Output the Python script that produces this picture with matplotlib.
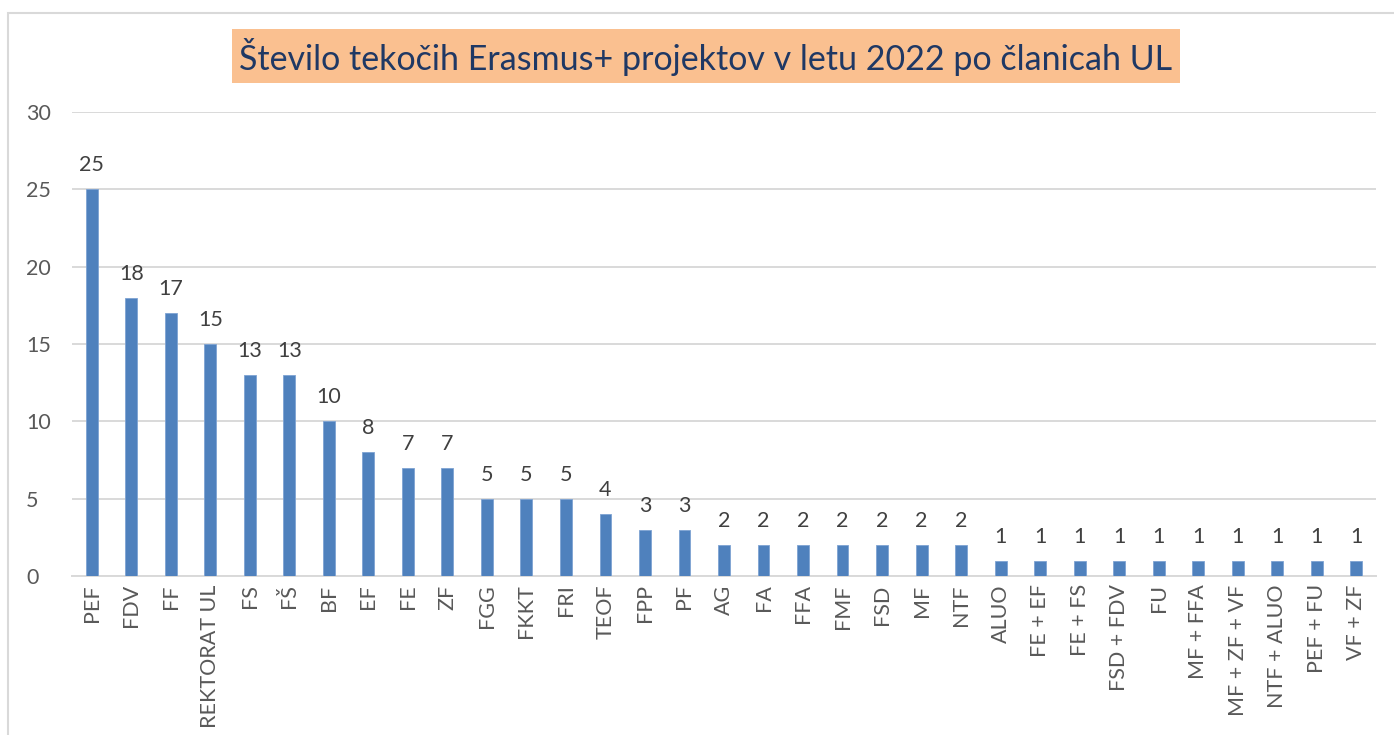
import matplotlib.pyplot as plt
from matplotlib.patches import Rectangle

categories = ['PEF', 'FDV', 'FF', 'REKTORAT UL', 'FS', 'FŠ', 'BF', 'EF', 'FE', 'ZF',
              'FGG', 'FKKT', 'FRI', 'TEOF', 'FPP', 'PF', 'AG', 'FA', 'FFA', 'FMF',
              'FSD', 'MF', 'NTF', 'ALUO', 'FE + EF', 'FE + FS', 'FSD + FDV', 'FU',
              'MF + FFA', 'MF + ZF + VF', 'NTF + ALUO', 'PEF + FU', 'VF + ZF']
values = [25, 18, 17, 15, 13, 13, 10, 8, 7, 7,
          5, 5, 5, 4, 3, 3, 2, 2, 2, 2,
          2, 2, 2, 1, 1, 1, 1, 1,
          1, 1, 1, 1, 1]
yticks = [0, 5, 10, 15, 20, 25, 30]
title = 'Število tekočih Erasmus+ projektov v letu 2022 po članicah UL'

plt.rcParams['font.family'] = ['Lato', 'DejaVu Sans']

fig = plt.figure(figsize=(13.94, 7.35), dpi=100)
W, H = 1394, 735

# okvir grafikona
fig.patches.append(Rectangle((8 / W, -0.05), 1.1, 1 - 13 / H + 0.05,
                             transform=fig.transFigure, fill=False,
                             edgecolor='#D9D9D9', linewidth=1.5))

ax = fig.add_axes([72 / W, 1 - 576 / H, (1376 - 72) / W, (576 - 112) / H])
x = range(len(categories))
ax.bar(x, values, width=0.3, color='#4F81BD', edgecolor='#7EA3D3',
       linewidth=0.6, zorder=3)
for xi, v in zip(x, values):
    ax.text(xi, v + 0.9, str(v), ha='center', va='bottom', fontsize=15.5,
            color='#404040')

ax.set_xlim(-0.5, len(categories) - 0.5)
ax.set_ylim(0, 30)
ax.set_yticks(yticks)
ax.yaxis.grid(True, color='#D9D9D9', linewidth=1.4, zorder=0)
ax.set_axisbelow(True)
ax.set_xticks(list(x))
ax.set_xticklabels(categories, rotation=90, fontsize=15.5, color='#595959')
ax.tick_params(axis='y', labelsize=15.5, labelcolor='#595959', length=0, pad=33)
ax.tick_params(axis='x', length=0, pad=6)
for s in ['top', 'right', 'left']:
    ax.spines[s].set_visible(False)
ax.spines['bottom'].set_color('#D9D9D9')
ax.spines['bottom'].set_linewidth(1.4)
for lbl in ax.get_yticklabels():
    lbl.set_horizontalalignment('left')

# naslov z oranžnim ozadjem
fig.patches.append(Rectangle((232 / W, 1 - 83 / H), (1180 - 232) / W, 54 / H,
                             transform=fig.transFigure, facecolor='#FAC090',
                             edgecolor='none'))
fig.text(706 / W, 1 - 57 / H, title, ha='center', va='center', fontsize=24.5,
         color='#1F3864')

fig.savefig('out.png', dpi=100)
